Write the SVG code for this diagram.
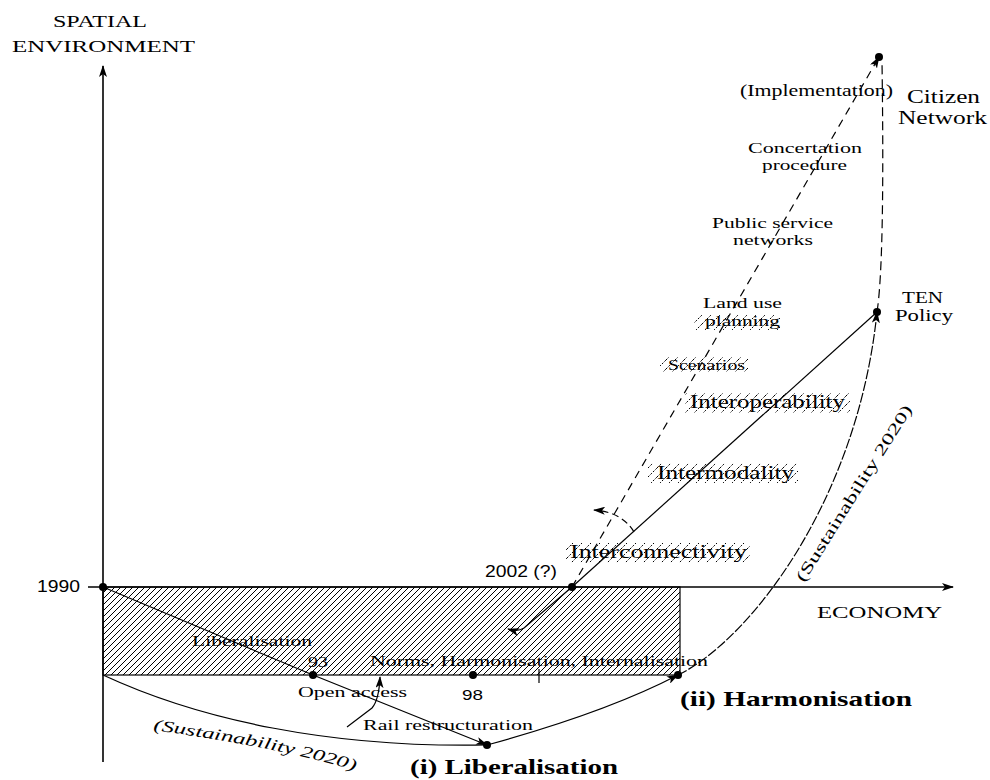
<svg xmlns="http://www.w3.org/2000/svg" width="990" height="780" viewBox="0 0 990 780">
<style>
 .s{font-family:"Liberation Serif","Times New Roman",serif;fill:#000}
 .ss{font-family:"Liberation Sans",Arial,sans-serif;fill:#000}
 .b{font-weight:bold}
 .i{font-style:italic}
 .ln{fill:none;stroke:#000;stroke-width:1.2}
 .ax{fill:none;stroke:#000;stroke-width:1.6}
 .dash{stroke-dasharray:8,6}
 .dot{fill:#000}
 .hl{fill:url(#hatch2)}
</style>
<defs>
 <pattern id="hatch" patternUnits="userSpaceOnUse" width="6" height="6"><path d="M-1,1 L1,-1 M0,6 L6,0 M5,7 L7,5" stroke="#000" stroke-width="1"/></pattern>
 <pattern id="hatch2" patternUnits="userSpaceOnUse" width="9" height="9"><path d="M0,9 L9,0" stroke="#000" stroke-width="1" stroke-dasharray="2,1.5"/></pattern>
 <marker id="ah" markerWidth="12" markerHeight="8" refX="11" refY="4" orient="auto" markerUnits="userSpaceOnUse"><path d="M0,0 L12,4 L0,8 L3,4 z" fill="#000"/></marker>
 <path id="sustLow" d="M153,730 Q290,749 362,773"/>
</defs>

<g id="axes">
 <path class="ax" d="M103,762 L103,66" marker-end="url(#ah)"/>
 <path class="ax" d="M88,587 L953,587" marker-end="url(#ah)"/>
 <text class="s" x="100" y="27" font-size="17" text-anchor="middle" textLength="94" lengthAdjust="spacingAndGlyphs">SPATIAL</text>
 <text class="s" x="12" y="52" font-size="17" textLength="183" lengthAdjust="spacingAndGlyphs">ENVIRONMENT</text>
 <text class="s" x="817" y="618" font-size="17" textLength="125" lengthAdjust="spacingAndGlyphs">ECONOMY</text>
</g>

<g id="period">
 <rect x="103" y="587" width="577" height="88" fill="url(#hatch)" stroke="#000" stroke-width="1.2"/>
</g>

<g id="connectors">
 <path class="ln" d="M103,587 L313,675 L487,745" marker-end="url(#ah)"/>
 <path class="ln" d="M103,675 C200,720 330,748 487,745"/>
 <path class="ln" d="M487,745 C560,725 630,700 678,675" marker-end="url(#ah)"/>
 <path class="ln" d="M678,675 C750,640 858,500 877,312" stroke-dasharray="10,2" marker-end="url(#ah)"/>
 <path class="ln" d="M877,312 C882,280 884,200 882,62" stroke-dasharray="9,5"/>
 <path class="ln dash" d="M572,587 L879,57" marker-end="url(#ah)"/>
 <path class="ln" d="M572,587 L877,312"/>
 <path class="ln" d="M572,587 L524,628 Q518,632 508,629" marker-end="url(#ah)"/>
 <path class="ln" d="M347,727 L372,708 Q379,700 380,677" marker-end="url(#ah)"/>
 <path class="ln" d="M539,669 L539,683"/>
 <path class="ln" d="M634,532 Q622,512 594,510" stroke-dasharray="7,4" marker-end="url(#ah)"/>
</g>

<g id="n1990">
 <circle class="dot" cx="103" cy="587" r="4"/>
 <text class="ss" x="37" y="592" font-size="16" textLength="43" lengthAdjust="spacingAndGlyphs">1990</text>
</g>
<g id="n93">
 <circle class="dot" cx="313" cy="675" r="4"/>
 <text class="s" x="192" y="646" font-size="15" textLength="120" lengthAdjust="spacingAndGlyphs">Liberalisation</text>
 <text class="s" x="308" y="667" font-size="15" textLength="20" lengthAdjust="spacingAndGlyphs">93</text>
 <text class="s" x="298" y="697" font-size="15" textLength="109" lengthAdjust="spacingAndGlyphs">Open access</text>
</g>
<g id="nNorms">
 <text class="s" x="370" y="666" font-size="15" textLength="338" lengthAdjust="spacingAndGlyphs">Norms, Harmonisation, Internalisation</text>
 <text class="s" x="363" y="730" font-size="15" textLength="170" lengthAdjust="spacingAndGlyphs">Rail restructuration</text>
</g>
<g id="n98">
 <circle class="dot" cx="473" cy="675" r="4"/>
 <text class="ss" x="462" y="700" font-size="15" textLength="21" lengthAdjust="spacingAndGlyphs">98</text>
</g>
<g id="nLiberalisation">
 <circle class="dot" cx="487" cy="745" r="4"/>
 <text class="s b" x="410" y="774" font-size="21" textLength="208" lengthAdjust="spacingAndGlyphs">(i) Liberalisation</text>
 <text class="s i" font-size="16"><textPath href="#sustLow" textLength="206" lengthAdjust="spacingAndGlyphs">(Sustainability 2020)</textPath></text>
</g>
<g id="nHarmonisation">
 <circle class="dot" cx="678" cy="675" r="4"/>
 <text class="s b" x="680" y="706" font-size="21" textLength="232" lengthAdjust="spacingAndGlyphs">(ii) Harmonisation</text>
 <text class="s" x="804" y="583" font-size="16" transform="rotate(-58 804 583)" textLength="205" lengthAdjust="spacingAndGlyphs">(Sustainability 2020)</text>
</g>
<g id="n2002">
 <circle class="dot" cx="572" cy="587" r="4"/>
 <text class="ss" x="485" y="577" font-size="16" textLength="72" lengthAdjust="spacingAndGlyphs">2002 (?)</text>
</g>
<g id="stages">
 <rect class="hl" x="566" y="543" width="184" height="20"/>
 <text class="s" x="570" y="558" font-size="19" textLength="177" lengthAdjust="spacingAndGlyphs">Interconnectivity</text>
 <rect class="hl" x="648" y="463" width="150" height="20"/>
 <text class="s" x="657" y="479" font-size="19" textLength="137" lengthAdjust="spacingAndGlyphs">Intermodality</text>
 <rect class="hl" x="685" y="393" width="165" height="20"/>
 <text class="s" x="690" y="408" font-size="19" textLength="155" lengthAdjust="spacingAndGlyphs">Interoperability</text>
 <rect class="hl" x="660" y="357" width="88" height="15"/>
 <text class="s" x="668" y="370" font-size="15" textLength="77" lengthAdjust="spacingAndGlyphs">Scenarios</text>
 <text class="s" x="703" y="308" font-size="15" textLength="79" lengthAdjust="spacingAndGlyphs">Land use</text>
 <rect class="hl" x="694" y="315" width="86" height="15"/>
 <text class="s" x="705" y="326" font-size="15" textLength="75" lengthAdjust="spacingAndGlyphs">planning</text>
 <text class="s" x="712" y="228" font-size="15" textLength="121" lengthAdjust="spacingAndGlyphs">Public service</text>
 <text class="s" x="733" y="245" font-size="15" textLength="80" lengthAdjust="spacingAndGlyphs">networks</text>
 <text class="s" x="748" y="153" font-size="15" textLength="114" lengthAdjust="spacingAndGlyphs">Concertation</text>
 <text class="s" x="762" y="170" font-size="15" textLength="85" lengthAdjust="spacingAndGlyphs">procedure</text>
 <text class="s" x="740" y="96" font-size="16" textLength="153" lengthAdjust="spacingAndGlyphs">(Implementation)</text>
</g>
<g id="nTEN">
 <circle class="dot" cx="877" cy="312" r="4"/>
 <text class="s" x="902" y="303" font-size="17" textLength="41" lengthAdjust="spacingAndGlyphs">TEN</text>
 <text class="s" x="895" y="321" font-size="17" textLength="58" lengthAdjust="spacingAndGlyphs">Policy</text>
</g>
<g id="nCitizen">
 <circle class="dot" cx="879" cy="57" r="4"/>
 <text class="s" x="907" y="103" font-size="19" textLength="73" lengthAdjust="spacingAndGlyphs">Citizen</text>
 <text class="s" x="898" y="124" font-size="19" textLength="89" lengthAdjust="spacingAndGlyphs">Network</text>
</g>
</svg>
